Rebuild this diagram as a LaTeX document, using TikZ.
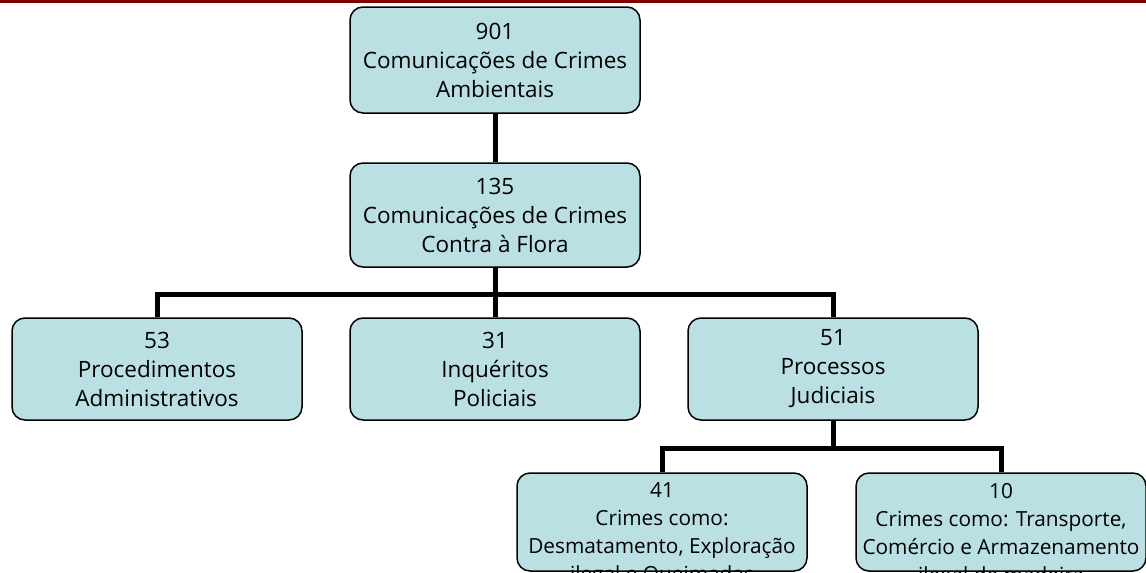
\documentclass[tikz,border=0pt]{standalone}
\usepackage{fontspec}
\setmainfont{Open Sans}
\definecolor{caixaazul}{RGB}{187,224,227}
\definecolor{vinho}{RGB}{128,0,0}
\begin{document}
\begin{tikzpicture}[x=1pt,y=-1pt,
    caixa/.style={draw=black, line width=1.5pt, fill=caixaazul, rounded corners=13pt,
      minimum width=290pt, minimum height=102pt, inner sep=0pt, align=center,
      font=\fontsize{22.5}{29}\selectfont},
    texto/.style={inner sep=0pt, align=center, font=\fontsize{20.8}{28}\selectfont},
    ligacao/.style={line width=5pt}]
  \useasboundingbox (0,0) rectangle (1146,573);
  \clip (0,0) rectangle (1146,573);
  \fill[vinho] (0,0) rectangle (1146,3);
  % caixas
  \node[caixa, minimum height=106pt] (c1) at (495,60) {901\\Comunicações de Crimes\\Ambientais};
  \node[caixa, minimum height=104pt] (c2) at (495,215) {135\\Comunicações de Crimes\\Contra à Flora};
  \node[caixa] (c3) at (157,369) {53\\Procedimentos\\Administrativos};
  \node[caixa] (c4) at (495,369) {31\\Inquéritos\\Policiais};
  \node[caixa] (c5) at (833,369) {51\\Processos\\Judiciais};
  \node[caixa, minimum height=98pt] (c6) at (662,522) {};
  \node[caixa, minimum height=98pt] (c7) at (1001,522) {};
  \node[texto] (t6) at ([yshift=-13pt]c6.center) {41\\Crimes como:\\Desmatamento, Exploração\\ilegal e Queimadas};
  \node[texto] (t7) at ([yshift=-13pt]c7.center) {10\\Crimes como: Transporte,\\Comércio e Armazenamento\\ilegal de madeira};
  % ligacoes
  \coordinate (b1) at (495,294);
  \coordinate (b2) at (833,448);
  \draw[ligacao] (c1) -- (c2);
  \draw[ligacao] (c2) -- (c4);
  \draw[ligacao] (b1) -| (c3);
  \draw[ligacao] (b1) -| (c5);
  \draw[ligacao] (c5) -- (b2);
  \draw[ligacao] (b2) -| (c6);
  \draw[ligacao] (b2) -| (c7);
\end{tikzpicture}
\end{document}
